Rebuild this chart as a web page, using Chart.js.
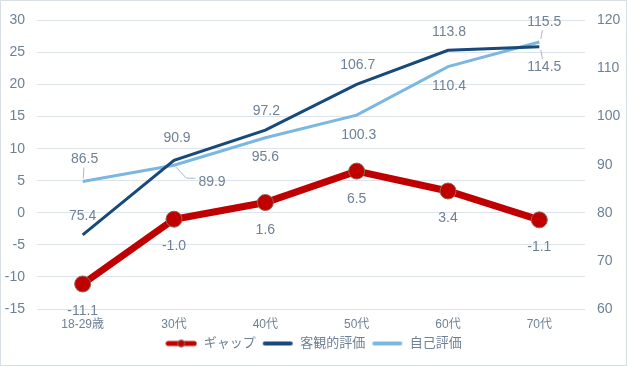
<!DOCTYPE html>
<html>
<head>
<meta charset="utf-8">
<script src="https://cdn.jsdelivr.net/npm/chart.js@4.4.0/dist/chart.umd.min.js"></script>
<style>
  html, body { margin: 0; padding: 0; background: #fff; }
  #wrap { width: 627px; height: 366px; }
</style>
</head>
<body>
<div id="wrap"><canvas id="chart"></canvas></div>
<script>
// data
const ages = ['18-29歳', '30代', '40代', '50代', '60代', '70代'];
const gap = [-11.1, -1.0, 1.6, 6.5, 3.4, -1.1];
const objective = [75.4, 90.9, 97.2, 106.7, 113.8, 114.5];
const selfEval = [86.5, 89.9, 95.6, 100.3, 110.4, 115.5];
const seriesNames = ['ギャップ', '客観的評価', '自己評価'];
const gapAxis = [-15, 30, 5];
const scoreAxis = [60, 120, 10];

const TEXT = '#6f8196';
const FONT = "'Liberation Sans', 'Noto Sans CJK JP', sans-serif";
const colors = ['#c00000', '#17497a', '#7ab8e1'];

// label offsets from each point [dx, dy], and which ones get a leader line
const labelOffsets = [
  [[0, 27], [0, 27], [0, 28], [0, 28], [0, 27], [0, 27]],
  [[0, -19], [3, -22], [1, -19], [1, -19], [1, -18], [5, 20]],
  [[2, -22], [38, 17], [0, 19], [2, 20], [1, 20], [5, -20]]
];
const leaders = { '1-5': 'v', '2-0': 'v', '2-1': 'h', '2-5': 'v' };

const dataLabels = {
  id: 'dataLabels',
  afterDatasetsDraw(chart) {
    const ctx = chart.ctx;
    ctx.save();
    ctx.font = '14px ' + FONT;
    ctx.textAlign = 'center';
    ctx.textBaseline = 'middle';
    chart.data.datasets.forEach((ds, di) => {
      chart.getDatasetMeta(di).data.forEach((pt, i) => {
        const [dx, dy] = labelOffsets[di][i];
        const x = pt.x + dx, y = pt.y + dy;
        const txt = ds.data[i].toFixed(1);
        const lead = leaders[di + '-' + i];
        if (lead) {
          ctx.strokeStyle = '#aab8c7';
          ctx.lineWidth = 1;
          ctx.beginPath();
          if (lead === 'v') {
            const dir = dy > 0 ? -1 : 1;
            ctx.moveTo(x - dx * 0.4, y + dir * 8);
            ctx.lineTo(pt.x + dx * 0.3, pt.y - dir * 3);
          } else {
            const w = ctx.measureText(txt).width;
            ctx.moveTo(pt.x + 2, pt.y + 2);
            ctx.lineTo(x - w / 2 - 12, y - 4);
            ctx.lineTo(x - w / 2 - 3, y - 4);
          }
          ctx.stroke();
        }
        ctx.fillStyle = TEXT;
        ctx.fillText(txt, x, y);
      });
    });
    ctx.restore();
  }
};

const frame = {
  id: 'frame',
  beforeDraw(chart) {
    const ctx = chart.ctx;
    ctx.save();
    ctx.fillStyle = '#fff';
    ctx.fillRect(0, 0, chart.width, chart.height);
    ctx.strokeStyle = '#d9dee5';
    ctx.lineWidth = 1;
    ctx.strokeRect(0.5, 0.5, chart.width - 1, chart.height - 1);
    ctx.restore();
  }
};

function legendIcon(color, width, marker) {
  const c = document.createElement('canvas');
  c.width = 32; c.height = 12;
  const g = c.getContext('2d');
  g.strokeStyle = color;
  g.lineWidth = width;
  g.lineCap = 'round';
  g.beginPath(); g.moveTo(3, 6); g.lineTo(29, 6); g.stroke();
  if (marker) {
    g.beginPath(); g.arc(16, 6, 3.5, 0, Math.PI * 2);
    g.fillStyle = color; g.fill();
    g.strokeStyle = '#8d6a55'; g.lineWidth = 1; g.stroke();
  }
  return c;
}
const icons = [legendIcon(colors[0], 5, true), legendIcon(colors[1], 4), legendIcon(colors[2], 4)];

new Chart(document.getElementById('chart'), {
  type: 'line',
  data: {
    labels: ages,
    datasets: [
      {
        label: seriesNames[0], data: gap, yAxisID: 'y',
        borderColor: colors[0], backgroundColor: colors[0], borderWidth: 7,
        pointRadius: 8, pointBackgroundColor: colors[0],
        pointBorderColor: '#8d6a55', pointBorderWidth: 1
      },
      {
        label: seriesNames[1], data: objective, yAxisID: 'y1',
        borderColor: colors[1], backgroundColor: colors[1], borderWidth: 3, pointRadius: 0
      },
      {
        label: seriesNames[2], data: selfEval, yAxisID: 'y1',
        borderColor: colors[2], backgroundColor: colors[2], borderWidth: 3, pointRadius: 0
      }
    ]
  },
  options: {
    responsive: true,
    maintainAspectRatio: false,
    animation: false,
    layout: { padding: { top: 15, left: 0, right: 0, bottom: 6 } },
    scales: {
      x: {
        offset: true,
        grid: { display: false, drawTicks: false },
        border: { display: false },
        ticks: { color: TEXT, font: { size: 12, family: FONT }, padding: 8 },
        afterFit: s => { s.height = 22; }
      },
      y: {
        position: 'left',
        min: gapAxis[0], max: gapAxis[1],
        ticks: { stepSize: gapAxis[2], color: TEXT, font: { size: 14, family: FONT }, padding: 12 },
        grid: { color: '#dde3eb', drawTicks: false },
        border: { display: false },
        afterFit: s => { s.width = 37; }
      },
      y1: {
        position: 'right',
        min: scoreAxis[0], max: scoreAxis[1],
        ticks: { stepSize: scoreAxis[2], color: TEXT, font: { size: 14, family: FONT }, padding: 12 },
        grid: { display: false, drawTicks: false },
        border: { display: false },
        afterFit: s => { s.width = 42; }
      }
    },
    plugins: {
      legend: {
        position: 'bottom',
        labels: {
          usePointStyle: true,
          pointStyleWidth: 32,
          padding: 6,
          color: TEXT,
          font: { size: 13, family: FONT },
          generateLabels: chart => Chart.defaults.plugins.legend.labels.generateLabels(chart)
            .map((l, i) => ({ ...l, pointStyle: icons[i] }))
        }
      },
      tooltip: { enabled: false }
    }
  },
  plugins: [frame, dataLabels]
});
</script>
</body>
</html>
